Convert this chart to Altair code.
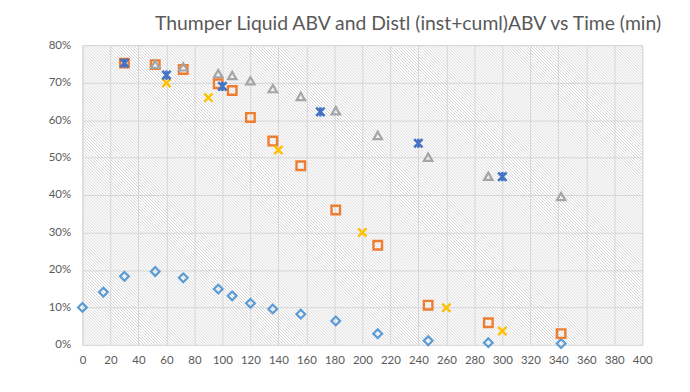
import altair as alt
import pandas as pd

# ---- data ----
thumper_t = [0, 15, 30, 52, 72, 97, 107, 120, 136, 156, 181, 211, 247, 290, 342]
thumper_abv = [10.0, 14.1, 18.3, 19.6, 17.9, 14.9, 13.1, 11.1, 9.6, 8.2, 6.4, 3.0, 1.1, 0.6, 0.35]

inst_t = [30, 52, 72, 97, 107, 120, 136, 156, 181, 211, 247, 290, 342]
inst_abv = [75.2, 74.8, 73.5, 69.7, 67.9, 60.7, 54.4, 47.8, 36.0, 26.6, 10.6, 5.9, 3.0]

cuml_t = [52, 72, 97, 107, 120, 136, 156, 181, 211, 247, 290, 342]
cuml_abv = [74.9, 74.2, 72.4, 71.9, 70.5, 68.4, 66.3, 62.5, 55.9, 50.1, 45.0, 39.6]

inst2_t = [60, 90, 140, 200, 260, 300]
inst2_abv = [69.9, 66.0, 52.0, 30.0, 9.9, 3.7]

cuml2_t = [30, 60, 100, 170, 240, 300]
cuml2_abv = [75.2, 72.0, 69.0, 62.2, 53.8, 44.9]

x_ticks = list(range(0, 401, 20))
y_ticks = [i / 10 for i in range(0, 9)]

title_text = "Thumper Liquid ABV and Distl (inst+cuml)ABV vs Time (min)"

rows = []
for name, xs, ys in [
    ("thumper", thumper_t, thumper_abv),
    ("cuml", cuml_t, cuml_abv),
    ("inst", inst_t, inst_abv),
    ("inst2", inst2_t, inst2_abv),
    ("cuml2", cuml2_t, cuml2_abv),
]:
    for xv, yv in zip(xs, ys):
        rows.append({"series": name, "t": xv, "abv": yv / 100})
df = pd.DataFrame(rows)

W, H = 564, 302
FONT = "Lato"
TXT = "#595959"
GRID = "#d9d9d9"
HATCH_GAP = 3  # px between diagonal hatch lines (style)

# ---- diagonal hatch background (decoration, generated by Vega-Lite) ----
hatch = (
    alt.Chart(alt.SequenceGenerator(sequence=alt.SequenceParams(start=-102, stop=190, step=1, **{"as": "k"})))
    .transform_calculate(
        hx=f"datum.k * {HATCH_GAP}",
        hx2=f"datum.k * {HATCH_GAP} + {H}",
    )
    .mark_rule(clip=True, stroke="#d0d0d0", strokeWidth=0.9)
    .encode(
        x=alt.X("hx:Q", scale=None),
        x2="hx2:Q",
        y=alt.value(0),
        y2=alt.value(H),
    )
)

base = alt.Chart(df).encode(
    x=alt.X(
        "t:Q",
        scale=alt.Scale(domain=[0, 400], nice=False, zero=False),
        axis=alt.Axis(
            values=x_ticks, title=None, grid=True, gridColor=GRID, gridWidth=1,
            domain=False, ticks=False, labelPadding=10, labelFont=FONT,
            labelFontSize=11.5, labelColor=TXT, labelOverlap=False, labelFlush=False,
        ),
    ),
    y=alt.Y(
        "abv:Q",
        scale=alt.Scale(domain=[0, 0.8], nice=False),
        axis=alt.Axis(
            values=y_ticks, format=".0%", title=None, grid=True, gridColor=GRID,
            gridWidth=1, domain=False, ticks=False, labelPadding=12,
            labelFont=FONT, labelFontSize=11.5, labelColor=TXT, labelOverlap=False,
            labelFlush=False,
        ),
    ),
)

XPATH = "M-1,-1L1,1M-1,1L1,-1"
STAR = "M-1,-1L1,1M-1,1L1,-1M0,-1.1L0,1.1"

l_thumper = base.transform_filter(alt.datum.series == "thumper").mark_point(
    shape="diamond", size=78, stroke="#5b9bd5", strokeWidth=2.2, filled=False, opacity=1
)
l_cuml = base.transform_filter(alt.datum.series == "cuml").mark_point(
    shape="triangle-up", size=72, stroke="#a5a5a5", strokeWidth=2.2, filled=False, opacity=1
)
l_inst = base.transform_filter(alt.datum.series == "inst").mark_point(
    shape="square", size=74, stroke="#ed7d31", strokeWidth=2.4, filled=False, opacity=1
)
l_inst2 = base.transform_filter(alt.datum.series == "inst2").mark_point(
    shape=XPATH, size=70, stroke="#ffc000", strokeWidth=2.4, filled=False, opacity=1
)
l_cuml2 = base.transform_filter(alt.datum.series == "cuml2").mark_point(
    shape=STAR, size=70, stroke="#4472c4", strokeWidth=2.6, filled=False, opacity=1
)

chart = alt.layer(base.mark_point(opacity=0), hatch, l_thumper, l_inst, l_cuml, l_inst2, l_cuml2).properties(
    width=W,
    height=H,
    padding={"left": 75, "top": 36, "right": 40, "bottom": 40},
    autosize=alt.AutoSizeParams(type="none"),
    title=alt.TitleParams(
        text=title_text, font=FONT, fontSize=19.5, fontWeight="normal", color=TXT,
        anchor="middle", frame="group", dx=46, offset=9, dy=19, baseline="alphabetic",
    ),
).configure_view(stroke=GRID, strokeWidth=1, fill="white").configure(background="white")

chart.save("out.html", embed_options={"renderer": "svg", "actions": False})
